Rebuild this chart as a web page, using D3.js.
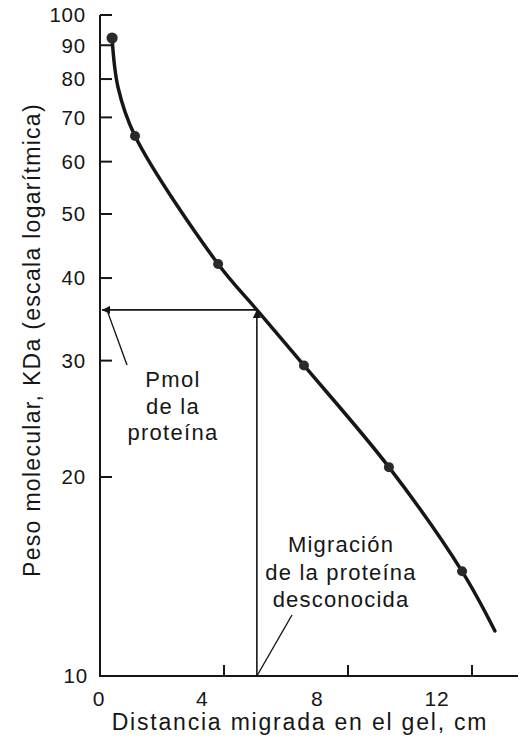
<!DOCTYPE html>
<html>
<head>
<meta charset="utf-8">
<script src="https://cdn.jsdelivr.net/npm/d3@7"></script>
<style>
  html, body { margin: 0; padding: 0; background: #fff; }
  svg { display: block; font-family: "Liberation Sans", Arial, Helvetica, sans-serif; }
</style>
</head>
<body>
<svg id="chart" width="522" height="740"></svg>
<script>
// ---- data ----
const distance = [0.39, 1.13, 3.81, 6.58, 9.32, 11.68];       // cm (standards)
const molWeight = [92.3, 65.6, 42.0, 29.5, 20.7, 14.4];        // KDa (standards)
const curveDistance = [0.39, 0.58, 1.13, 3.81, 5.06, 6.58, 9.32, 11.68, 12.74];
const curveWeight   = [92.3, 77.8, 65.6, 42.0, 35.8, 29.5, 20.7, 14.4, 11.7];
const unknownDistance = 5.06;
const unknownWeight = 35.8;
const xTicks = [0, 4, 8, 12];
const yTicks = [10, 20, 30, 40, 50, 60, 70, 80, 90, 100];
const xTitle = "Distancia migrada en el gel, cm";
const yTitle = "Peso molecular, KDa (escala logarítmica)";
const noteLeft = ["Pmol", "de la", "proteína"];
const noteRight = ["Migración", "de la proteína", "desconocida"];

// ---- drawing ----
const svg = d3.select("#chart");
const ink = "#161616";
const x = d3.scaleLinear().domain([0, 12]).range([100, 472]);
const xLab = d3.scalePow().exponent(1.08).domain([0, 12]).range([99, 437]);
const y = d3.scaleLog().domain([10, 100]).range([676, 15]);

const defs = svg.append("defs");
defs.append("marker").attr("id", "arr").attr("viewBox", "0 0 10 10")
  .attr("refX", 10).attr("refY", 5).attr("markerWidth", 10).attr("markerHeight", 8)
  .attr("markerUnits", "userSpaceOnUse").attr("orient", "auto")
  .append("path").attr("d", "M0,0 L10,5 L0,10 Z").attr("fill", ink);

// axes lines
svg.append("line").attr("x1", x(0)).attr("x2", x(0)).attr("y1", y(100)).attr("y2", y(10))
  .attr("stroke", ink).attr("stroke-width", 2);
svg.append("line").attr("x1", x(0) - 1).attr("x2", 518).attr("y1", y(10)).attr("y2", y(10))
  .attr("stroke", ink).attr("stroke-width", 2);

// y ticks
svg.selectAll(".yt").data(yTicks.filter(d => d !== 10)).join("line")
  .attr("x1", x(0)).attr("x2", x(0) + 12).attr("y1", d => y(d)).attr("y2", d => y(d))
  .attr("stroke", ink).attr("stroke-width", 2);
svg.selectAll(".yl").data(yTicks).join("text")
  .attr("x", d => d === 10 ? 88 : 86).attr("y", d => y(d)).attr("dy", "0.36em")
  .attr("text-anchor", "end").attr("font-size", 20.5).attr("letter-spacing", 0.8)
  .attr("fill", ink).text(d => d);

// x ticks
svg.selectAll(".xt").data(xTicks.filter(d => d !== 0)).join("line")
  .attr("x1", d => x(d)).attr("x2", d => x(d)).attr("y1", y(10)).attr("y2", y(10) - 11)
  .attr("stroke", ink).attr("stroke-width", 2);
svg.selectAll(".xl").data(xTicks).join("text")
  .attr("x", d => xLab(d)).attr("y", 706)
  .attr("text-anchor", "middle").attr("font-size", 21).attr("letter-spacing", 0.8)
  .attr("fill", ink).text(d => d);

// titles
svg.append("text").attr("x", 300).attr("y", 730).attr("text-anchor", "middle")
  .attr("font-size", 23).attr("letter-spacing", 1.8).attr("fill", ink).text(xTitle);
svg.append("text").attr("transform", "translate(40,340) rotate(-90)")
  .attr("text-anchor", "middle").attr("font-size", 23).attr("letter-spacing", 1.3)
  .attr("fill", ink).text(yTitle);

// reading lines
svg.append("line").attr("x1", x(unknownDistance)).attr("x2", x(unknownDistance))
  .attr("y1", y(10)).attr("y2", y(unknownWeight))
  .attr("stroke", ink).attr("stroke-width", 1.6).attr("marker-end", "url(#arr)");
svg.append("line").attr("x1", x(unknownDistance)).attr("x2", x(0) + 2)
  .attr("y1", y(unknownWeight)).attr("y2", y(unknownWeight))
  .attr("stroke", ink).attr("stroke-width", 1.6).attr("marker-end", "url(#arr)");

// pointer lines
svg.append("line").attr("x1", 127).attr("y1", 365).attr("x2", 108).attr("y2", y(unknownWeight) + 3)
  .attr("stroke", ink).attr("stroke-width", 1.4);
svg.append("line").attr("x1", 292).attr("y1", 615).attr("x2", x(unknownDistance)).attr("y2", y(10))
  .attr("stroke", ink).attr("stroke-width", 1.4);

// notes
const gl = svg.append("text").attr("text-anchor", "middle").attr("font-size", 22)
  .attr("letter-spacing", 1.3).attr("fill", ink);
noteLeft.forEach((t, i) => gl.append("tspan").attr("x", 173).attr("y", 387 + i * 26.5).text(t));
const gr = svg.append("text").attr("text-anchor", "middle").attr("font-size", 22)
  .attr("letter-spacing", 1.2).attr("fill", ink);
noteRight.forEach((t, i) => gr.append("tspan").attr("x", 341).attr("y", 552 + i * 27.5).text(t));

// curve
const pts = curveDistance.map((d, i) => [d, curveWeight[i]]);
svg.append("path").datum(pts)
  .attr("d", d3.line().x(d => x(d[0])).y(d => y(d[1])).curve(d3.curveCatmullRom.alpha(0.5)))
  .attr("fill", "none").attr("stroke", ink).attr("stroke-width", 3.5).attr("stroke-linecap", "round");

// points
svg.selectAll(".pt").data(distance).join("circle")
  .attr("cx", d => x(d)).attr("cy", (d, i) => y(molWeight[i])).attr("r", (d, i) => i === 0 ? 5.6 : 5)
  .attr("fill", "#2a2a2a");
</script>
</body>
</html>
